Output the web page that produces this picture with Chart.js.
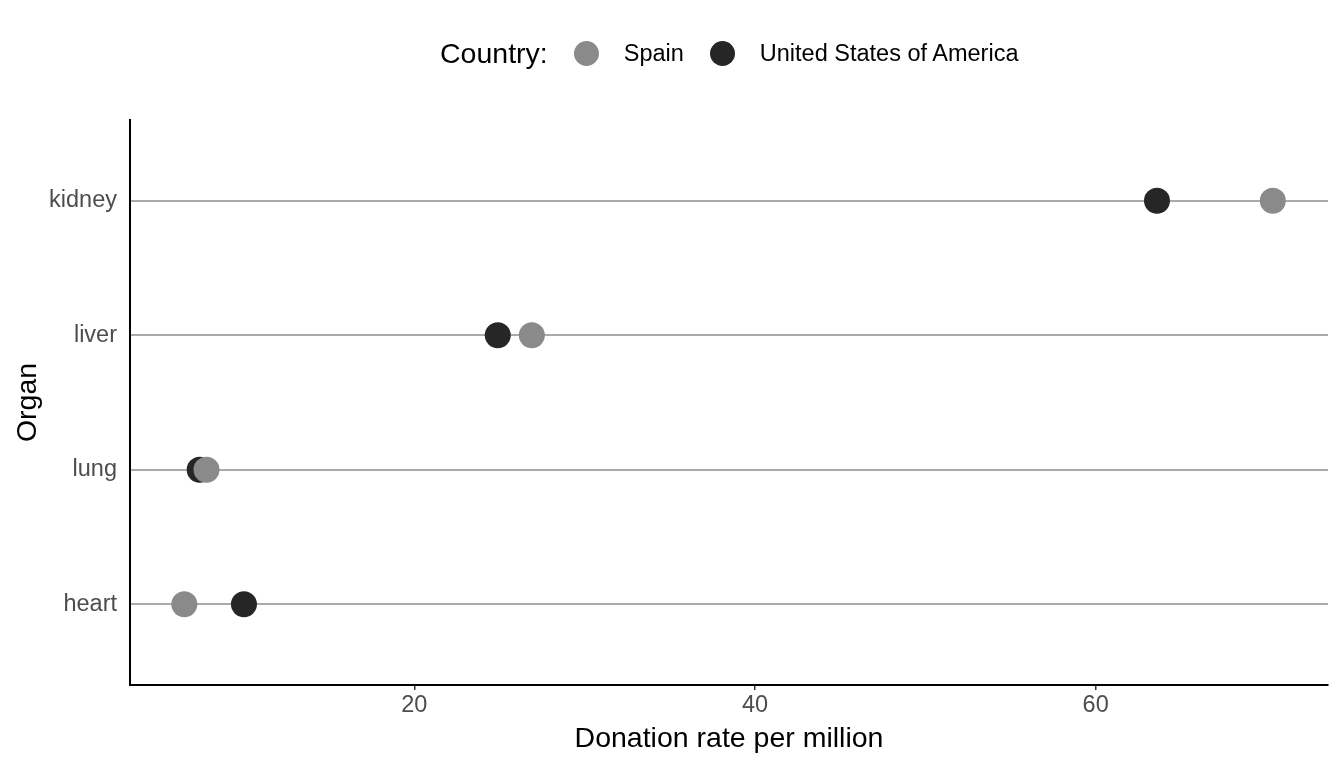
<!DOCTYPE html>
<html>
<head>
<meta charset="utf-8">
<script src="https://cdn.jsdelivr.net/npm/chart.js@4/dist/chart.umd.min.js"></script>
<style>
  body { margin: 0; background: #fff; font-family: "Liberation Sans", Arial, sans-serif; }
  #wrap { position: relative; width: 1344px; height: 768px; }
  #legend { position: absolute; left: 440px; top: 34px; height: 38px; display: flex; align-items: center; color: #000; white-space: nowrap; }
  #legend .title { font-size: 28.5px; margin-right: 26px; }
  #legend .dot { width: 25px; height: 25px; border-radius: 50%; margin-right: 25px; }
  #legend .lab { font-size: 23.5px; margin-right: 26px; }
</style>
</head>
<body>
<div id="wrap">
  <canvas id="chart" width="1344" height="768"></canvas>
  <div id="legend"></div>
</div>
<script>
// organs from bottom to top
const organs = ['heart', 'lung', 'liver', 'kidney'];
const countries = ['Spain', 'United States of America'];
const spainRates = [6.5, 7.8, 26.9, 70.4];
const usaRates = [10.0, 7.4, 24.9, 63.6];
const xTicks = [20, 40, 60];
const colors = ['#8a8a8a', '#262626'];

const toPoints = (vals) => vals.map((v, i) => ({ x: v, y: i + 1 }));

// html legend, "Country:" inline like ggplot
const legendEl = document.getElementById('legend');
legendEl.innerHTML = '<span class="title">Country:</span>' +
  countries.map((c, i) => `<span class="dot" style="background:${colors[i]}"></span><span class="lab">${c}</span>`).join('');

const tickFont = { family: '"Liberation Sans", Arial', size: 23.5 };
const titleFont = { family: '"Liberation Sans", Arial', size: 28.5 };

const ctx = document.getElementById('chart').getContext('2d');
new Chart(ctx, {
  type: 'scatter',
  data: {
    datasets: [
      { label: countries[0], data: toPoints(spainRates), backgroundColor: colors[0], pointRadius: 13, pointHoverRadius: 13, borderWidth: 0, order: 0 },
      { label: countries[1], data: toPoints(usaRates), backgroundColor: colors[1], pointRadius: 13, pointHoverRadius: 13, borderWidth: 0, order: 1 }
    ]
  },
  options: {
    responsive: false,
    animation: false,
    layout: { padding: { top: 120, right: 16, left: 0, bottom: 0 } },
    plugins: {
      legend: { display: false },
      tooltip: { enabled: false }
    },
    scales: {
      x: {
        type: 'linear',
        min: 3.31,
        max: 73.64,
        afterBuildTicks: (axis) => { axis.ticks = xTicks.map(v => ({ value: v })); },
        afterFit: (axis) => { axis.height = 83; },
        border: { color: '#000', width: 2 },
        grid: { drawOnChartArea: false, drawTicks: true, tickLength: 5, color: '#333', lineWidth: 1.5 },
        ticks: { color: '#4d4d4d', font: tickFont, padding: 1, maxRotation: 0 },
        title: { display: true, text: 'Donation rate per million', color: '#000', font: titleFont, padding: { top: 0, bottom: 11.5 } }
      },
      y: {
        type: 'linear',
        min: 0.4,
        max: 4.6,
        afterBuildTicks: (axis) => { axis.ticks = organs.map((o, i) => ({ value: i + 1 })); },
        afterFit: (axis) => { axis.width = 130; },
        border: { color: '#000', width: 2 },
        grid: { drawOnChartArea: true, drawTicks: false, color: '#aaaaaa', lineWidth: 2 },
        ticks: {
          color: '#4d4d4d',
          font: tickFont,
          padding: 13,
          callback: (v) => organs[v - 1]
        },
        title: { display: true, text: 'Organ', color: '#000', font: titleFont, padding: { top: 11, bottom: 0 } }
      }
    }
  }
});
</script>
</body>
</html>
